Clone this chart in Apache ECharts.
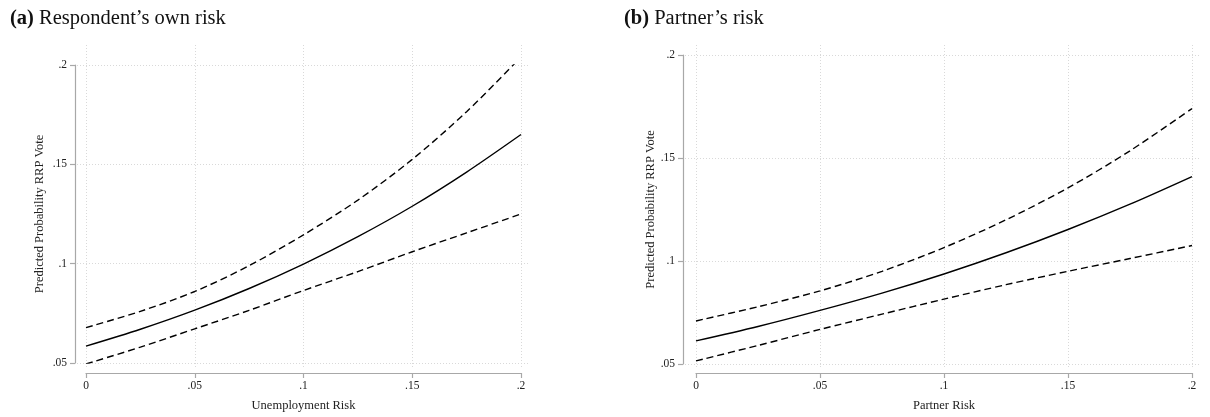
<!DOCTYPE html>
<html>
<head>
<meta charset="utf-8">
<script src="https://cdn.jsdelivr.net/npm/echarts@6/dist/echarts.min.js"></script>
<style>
  html, body { margin: 0; padding: 0; background: #ffffff; }
  #chart { width: 1210px; height: 417px; }
</style>
</head>
<body>
<div id="chart"></div>
<script>
// Risk levels at which predictions are plotted
const riskLevels = [0, 0.025, 0.05, 0.075, 0.1, 0.125, 0.15, 0.175, 0.2];

// (a) Respondent's own unemployment risk: prediction and 95% bounds
const ownFit   = [0.0585, 0.0670, 0.0766, 0.0875, 0.0998, 0.1136, 0.1289, 0.1461, 0.1650];
const ownUpper = [0.0678, 0.0760, 0.0860, 0.0990, 0.1145, 0.1320, 0.1525, 0.1765, 0.2040];
const ownLower = [0.0495, 0.0580, 0.0672, 0.0765, 0.0865, 0.0960, 0.1060, 0.1155, 0.1250];

// (b) Partner's unemployment risk: prediction and 95% bounds
const partnerFit   = [0.0612, 0.0682, 0.0760, 0.0844, 0.0937, 0.1040, 0.1153, 0.1276, 0.1410];
const partnerUpper = [0.0709, 0.0778, 0.0855, 0.0950, 0.1065, 0.1200, 0.1355, 0.1535, 0.1740];
const partnerLower = [0.0515, 0.0590, 0.0668, 0.0742, 0.0815, 0.0885, 0.0950, 0.1012, 0.1075];

// Axis ranges and tick spacing
const xRange = [0, 0.2];
const yRange = [0.05, 0.2];
const tickStep = 0.05;

const panelTitles = ['Respondent\u2019s own risk', 'Partner\u2019s risk'];
const panelTags = ['(a)', '(b)'];
const xTitles = ['Unemployment Risk', 'Partner Risk'];
const yTitle = 'Predicted Probability RRP Vote';

const serif = '"Liberation Serif", "DejaVu Serif", serif';
const axisGrey = '#a8a8a8';
const gridGrey = '#d9d9d9';
const textCol = '#222222';

// Stata-style labels: drop the leading zero
function tickText(v) {
  if (Math.abs(v) < 1e-9) return '0';
  return String(+v.toFixed(3)).replace(/^0\./, '.');
}

// Pixel layout of each panel's plotting area
const layout = [
  { left: 86,  right: 521,  top: 65, bottom: 363, yOff: 11, xOff: 10, hLeft: 77,  hRight: 528,  yGap: 29 },
  { left: 696, right: 1192, top: 55, bottom: 364, yOff: 13, xOff: 9,  hLeft: 685, hRight: 1200, yGap: 24 }
];
const gridTop = 45, gridBottom = 368;

const fits = [
  [ownFit, ownUpper, ownLower],
  [partnerFit, partnerUpper, partnerLower]
];

const grids = [], xAxes = [], yAxes = [], series = [], titles = [];

layout.forEach((p, i) => {
  const w = p.right - p.left;
  const base = grids.length;

  // grid 0: data area with the offset axes
  grids.push({ left: p.left, top: p.top, width: w, height: p.bottom - p.top });
  // grid 1: vertical dotted guides across the full plot region height
  grids.push({ left: p.left, top: gridTop, width: w, height: gridBottom - gridTop });
  // grid 2: horizontal dotted guides across the full plot region width
  grids.push({ left: p.hLeft, top: p.top, width: p.hRight - p.hLeft, height: p.bottom - p.top });

  // data axes
  xAxes.push({
    gridIndex: base, type: 'value', min: xRange[0], max: xRange[1], interval: tickStep,
    offset: p.xOff,
    name: xTitles[i], nameLocation: 'middle', nameGap: 26,
    nameTextStyle: { fontFamily: serif, fontSize: 12.5, color: textCol },
    axisLine: { show: true, onZero: false, lineStyle: { color: axisGrey, width: 1.2 } },
    axisTick: { show: true, length: 5, lineStyle: { color: axisGrey, width: 1.2 } },
    axisLabel: { formatter: tickText, fontFamily: serif, fontSize: 11.5, color: textCol, margin: 7 },
    splitLine: { show: false }
  });
  yAxes.push({
    gridIndex: base, type: 'value', min: yRange[0], max: yRange[1], interval: tickStep,
    offset: p.yOff,
    name: yTitle, nameLocation: 'middle', nameGap: p.yGap, nameRotate: 90,
    nameTextStyle: { fontFamily: serif, fontSize: 12.5, color: textCol },
    axisLine: { show: true, onZero: false, lineStyle: { color: axisGrey, width: 1.2 } },
    axisTick: { show: true, length: 5, lineStyle: { color: axisGrey, width: 1.2 } },
    axisLabel: { formatter: tickText, fontFamily: serif, fontSize: 11.5, color: textCol, margin: 8 },
    splitLine: { show: false }
  });

  // guide grid for vertical lines
  xAxes.push({
    gridIndex: base + 1, type: 'value', min: xRange[0], max: xRange[1], interval: tickStep,
    axisLine: { show: false }, axisTick: { show: false }, axisLabel: { show: false },
    splitLine: { show: true, lineStyle: { color: gridGrey, type: [1, 2], width: 1 } }
  });
  yAxes.push({
    gridIndex: base + 1, type: 'value', min: 0, max: 1,
    axisLine: { show: false }, axisTick: { show: false }, axisLabel: { show: false },
    splitLine: { show: false }
  });

  // guide grid for horizontal lines
  xAxes.push({
    gridIndex: base + 2, type: 'value', min: 0, max: 1,
    axisLine: { show: false }, axisTick: { show: false }, axisLabel: { show: false },
    splitLine: { show: false }
  });
  yAxes.push({
    gridIndex: base + 2, type: 'value', min: yRange[0], max: yRange[1], interval: tickStep,
    axisLine: { show: false }, axisTick: { show: false }, axisLabel: { show: false },
    splitLine: { show: true, lineStyle: { color: gridGrey, type: [1, 2], width: 1 } }
  });

  const [fit, upper, lower] = fits[i];
  const styles = [
    { data: fit,   type: 'solid' },
    { data: upper, type: [7, 4] },
    { data: lower, type: [7, 4] }
  ];
  styles.forEach(s => {
    series.push({
      type: 'line', xAxisIndex: base, yAxisIndex: base,
      data: riskLevels.map((x, k) => [x, s.data[k]]),
      smooth: 0.3, showSymbol: false, symbol: 'none', silent: true,
      lineStyle: { color: '#000000', width: 1.4, type: s.type },
      z: 5
    });
  });

  titles.push({
    text: '{b|' + panelTags[i] + '} ' + panelTitles[i],
    left: i === 0 ? 5 : 619, top: 3,
    textStyle: {
      fontFamily: serif, fontSize: 20.5, fontWeight: 'normal', color: '#111111',
      rich: { b: { fontFamily: serif, fontSize: 20.5, fontWeight: 'bold', color: '#111111' } }
    }
  });
});

const chart = echarts.init(document.getElementById('chart'), null, { renderer: 'canvas' });
chart.setOption({
  animation: false,
  backgroundColor: '#ffffff',
  title: titles,
  grid: grids,
  xAxis: xAxes,
  yAxis: yAxes,
  series: series
});
</script>
</body>
</html>
